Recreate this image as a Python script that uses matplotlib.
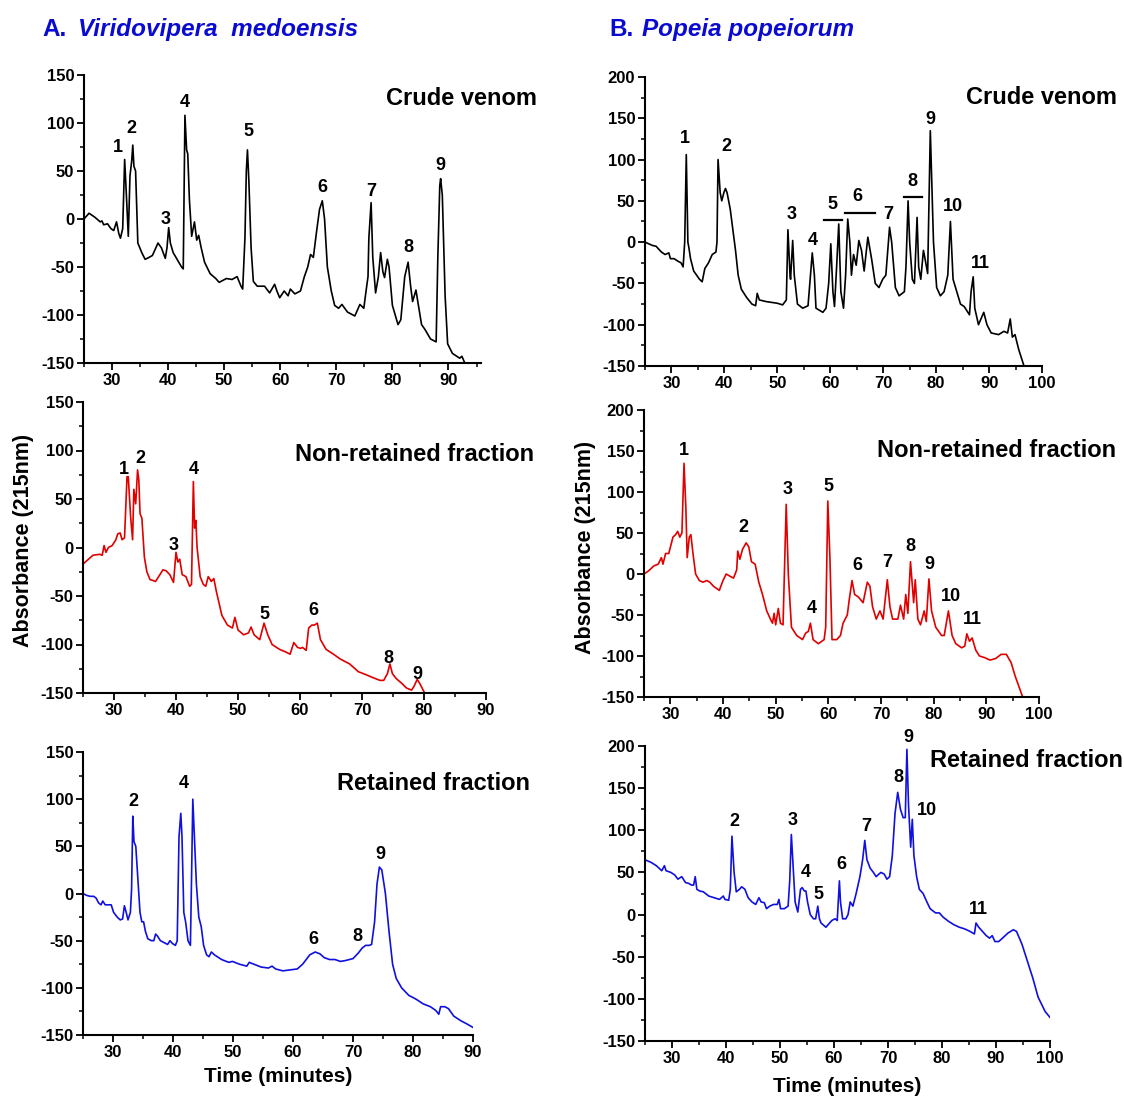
import matplotlib
matplotlib.use("Agg")
import matplotlib.pyplot as plt
from matplotlib.ticker import MultipleLocator

plt.rcParams['font.family'] = ['Liberation Sans', 'DejaVu Sans']
plt.rcParams['font.weight'] = 'bold'
plt.rcParams['axes.unicode_minus'] = False

# ---------------- data ----------------
# A. Viridovipera medoensis - crude venom
a1_t = [25, 25.9, 26.9, 27.9, 28.2, 28.5, 29.2, 29.8, 30.3, 30.8, 31.2, 31.5, 31.9, 32.25, 32.6, 32.9,
        33.2, 33.5, 33.7, 33.9, 34.2, 34.6, 35.3, 35.9, 36.6, 37.2, 38.2, 38.8, 39.5, 39.8, 40.1, 40.4,
        40.9, 41.7, 42.4, 42.7, 43.0, 43.3, 43.5, 43.8, 44.2, 44.7, 45.1, 45.45, 45.9, 46.5, 47.5, 48.5,
        49.1, 50.4, 51.4, 52.3, 53.0, 53.3, 53.7, 53.95, 54.15, 54.4, 54.8, 55.2, 55.9, 57.2, 58.1, 59.0,
        59.4, 59.9, 60.7, 61.4, 61.8, 62.6, 63.6, 64.3, 64.9, 65.4, 65.9, 66.5, 67.0, 67.5, 67.9, 68.4,
        69.1, 69.7, 70.4, 71.0, 72.0, 73.3, 74.2, 74.9, 75.3, 75.65, 75.8, 76.2, 76.5, 77.0, 77.5, 77.9,
        78.3, 78.6, 79.1, 79.4, 80.0, 81.0, 81.5, 82.2, 82.8, 83.25, 83.6, 84.2, 84.5, 85.2, 85.8, 86.8,
        87.8, 88.1, 88.45, 88.6, 88.9, 89.4, 89.85, 90.7, 92.0, 92.4, 92.9]
a1_v = [0, 6, 2, -3, -2, -6, -5, -10, -12, -3, -15, -20, -10, 62, 20, -18,
        45, 60, 77, 55, 50, -25, -35, -42, -40, -38, -25, -30, -41, -30, -9, -25,
        -35, -43, -50, -52, 108, 72, 68, 20, -18, -3, -22, -17, -30, -45, -57, -62,
        -66, -62, -63, -60, -70, -73, -20, 50, 72, 40, -30, -65, -70, -70, -77, -68,
        -75, -82, -75, -80, -73, -78, -75, -60, -50, -37, -40, -12, 10, 19, 0, -50,
        -75, -90, -93, -89, -97, -101, -89, -93, -75, -60, -20, 17, -40, -77, -60, -35,
        -55, -61, -42, -50, -90, -110, -105, -60, -45, -70, -86, -74, -85, -110, -115, -125,
        -128, -40, 35, 42, 25, -80, -130, -140, -145, -143, -150]
a1_lab = ['1', '2', '3', '4', '5', '6', '7', '8', '9']
a1_lx = [31.0, 33.5, 39.5, 43.0, 54.3, 67.5, 76.2, 82.8, 88.6]
a1_ly = [75, 94, 0, 121, 91, 33, 29, -30, 56]

# A - non-retained fraction
a2_t = [25, 25.9, 26.6, 27.7, 28.1, 28.4, 28.7, 29.1, 29.7, 30.3, 30.6, 31.0, 31.3, 31.7, 32.1, 32.3,
        32.7, 33.0, 33.2, 33.5, 33.8, 34.0, 34.2, 34.5, 34.9, 35.3, 35.8, 36.7, 37.2, 37.9, 38.4, 39.0,
        39.6, 40.0, 40.3, 40.6, 41.0, 41.6, 42.2, 42.5, 42.8, 43.0, 43.2, 43.4, 43.9, 44.4, 44.8, 45.2,
        45.7, 46.1, 46.5, 47.4, 48.3, 49.1, 49.5, 50.0, 50.9, 51.7, 52.1, 52.6, 53.5, 54.2, 54.8, 55.5,
        56.7, 57.8, 58.4, 59.0, 59.6, 60.1, 60.4, 61.0, 61.4, 61.9, 62.3, 62.8, 63.3, 64.2, 65.4, 66.5,
        67.4, 68.0, 69.4, 70.6, 71.7, 72.9, 73.5, 74.1, 74.5, 74.9, 75.5, 76.4, 77.2, 78.0, 78.4, 78.9,
        79.3, 80.1]
a2_v = [-17, -12, -8, -7, -8, 2, -5, 0, 2, 8, 14, 15, 8, 10, 73, 73,
        30, 8, 60, 45, 80, 70, 35, 30, -10, -25, -33, -35, -30, -23, -24, -28,
        -36, -5, -15, -12, -28, -30, -40, -38, 68, 20, 28, 0, -30, -38, -40, -30,
        -35, -32, -45, -70, -80, -83, -72, -85, -90, -88, -82, -90, -95, -78, -90, -100,
        -105, -108, -110, -98, -103, -104, -103, -106, -83, -80, -80, -78, -95, -105, -110, -115,
        -118, -120, -128, -131, -134, -137, -137, -130, -120, -130, -135, -140, -145, -147, -143, -136,
        -140, -150]
a2_lab = ['1', '2', '3', '4', '5', '6', '8', '9']
a2_lx = [31.6, 34.2, 39.6, 42.8, 54.3, 62.2, 74.2, 78.9]
a2_ly = [80, 92, 2, 80, -69, -65, -114, -131]

# A - retained fraction
a3_t = [25, 25.6, 26.2, 26.8, 27.2, 27.6, 28.0, 28.3, 28.7, 29.2, 29.7, 30.1, 30.7, 31.2, 31.6, 31.9,
        32.2, 32.5, 32.9, 33.1, 33.3, 33.5, 33.8, 34.1, 34.5, 34.8, 35.1, 35.4, 35.8, 36.4, 36.8, 37.1,
        37.4, 37.9, 38.5, 39.1, 39.5, 39.9, 40.4, 40.7, 41.0, 41.3, 41.5, 41.8, 42.1, 42.5, 42.9, 43.1,
        43.3, 43.6, 43.9, 44.3, 44.7, 45.1, 45.6, 46.0, 46.4, 46.9, 48.1, 49.3, 49.9, 51.1, 52.3, 52.7,
        53.5, 54.7, 55.9, 56.5, 57.1, 58.3, 59.5, 60.7, 61.6, 62.2, 62.8, 63.7, 64.5, 65.2, 66.1, 67.0,
        67.9, 68.8, 70.0, 70.9, 71.5, 72.1, 72.7, 73.1, 73.6, 74.0, 74.4, 74.8, 75.4, 76.0, 76.6, 77.2,
        78.1, 79.3, 80.5, 81.7, 82.9, 83.8, 84.3, 84.6, 85.3, 85.9, 86.8, 88.0, 88.9, 90.0]
a3_v = [0, -2, -3, -3, -5, -10, -12, -8, -12, -12, -12, -20, -25, -28, -27, -13,
        -20, -28, -20, 5, 82, 55, 50, 20, -20, -30, -30, -40, -48, -50, -50, -43,
        -45, -50, -52, -54, -50, -53, -55, -50, 60, 85, 60, -20, -30, -50, -55, 20,
        100, 55, 10, -25, -35, -55, -65, -67, -62, -65, -70, -73, -72, -75, -77, -73,
        -75, -78, -79, -77, -80, -82, -81, -80, -75, -70, -65, -62, -64, -68, -70, -70,
        -72, -71, -69, -63, -58, -55, -55, -54, -30, 10, 28, 25, 0, -40, -75, -90,
        -100, -108, -112, -117, -120, -124, -128, -120, -120, -122, -130, -135, -138, -142]
a3_lab = ['2', '4', '6', '8', '9']
a3_lx = [33.4, 41.8, 63.4, 70.8, 74.5]
a3_ly = [98, 117, -49, -46, 41]

# B. Popeia popeiorum - crude venom
b1_t = [25.0, 26.4, 27.1, 28.1, 28.8, 29.5, 29.8, 30.5, 31.2, 31.8, 32.2, 32.5, 32.8, 33.1, 33.3, 33.6,
        34.2, 35.3, 35.8, 36.3, 37.0, 37.7, 38.4, 38.6, 38.8, 39.2, 39.5, 39.9, 40.2, 40.5, 41.1, 41.6,
        42.1, 42.6, 43.2, 44.2, 45.2, 45.9, 46.2, 46.6, 47.9, 50.0, 51.0, 51.7, 52.0, 52.4, 52.5, 52.9,
        53.2, 53.8, 54.8, 55.8, 56.2, 56.6, 57.0, 57.3, 58.6, 59.2, 59.7, 60.1, 60.5, 60.8, 61.2, 61.6,
        62.0, 62.5, 62.9, 63.3, 63.7, 64.0, 64.4, 64.9, 65.4, 65.9, 66.4, 67.1, 67.8, 68.5, 69.2, 69.9,
        70.5, 71.2, 71.6, 72.3, 73.0, 74.0, 74.3, 74.7, 75.0, 75.5, 75.9, 76.4, 76.7, 77.1, 77.6, 77.9,
        78.4, 78.9, 79.5, 80.1, 80.8, 81.5, 82.2, 82.7, 83.2, 83.9, 84.6, 85.3, 86.0, 86.3, 86.6, 87.0,
        87.3, 88.0, 89.0, 89.6, 90.4, 91.8, 92.8, 93.5, 94.0, 94.4, 94.9, 95.6, 96.6]
b1_v = [0, -4, -5, -12, -15, -13, -20, -20, -23, -25, -30, 0, 106, 0, -7, -20,
        -35, -45, -48, -32, -25, -15, -12, 0, 100, 60, 50, 60, 65, 60, 40, 15,
        -10, -40, -57, -67, -75, -77, -62, -70, -72, -74, -76, -70, 15, -40, -45, 2,
        -40, -75, -80, -77, -45, -13, -40, -80, -85, -80, -50, -2, -60, -78, -30, 22,
        -60, -80, -40, 28, 0, -40, -15, -28, 2, -10, -35, 6, -20, -50, -55, -45,
        -40, 18, 0, -55, -65, -60, -30, 50, 0, -45, -50, 30, -30, -45, -10, -20,
        -38, 135, 0, -55, -65, -60, -40, 25, -45, -60, -75, -78, -85, -88, -60, -42,
        -80, -100, -85, -100, -110, -112, -108, -110, -93, -115, -112, -130, -150]
b1_lab = ['1', '2', '3', '4', '5', '6', '7', '8', '9', '10', '11']
b1_lx = [32.5, 40.3, 52.7, 56.6, 60.5, 65.2, 71.0, 75.5, 78.9, 83.1, 88.4]
b1_ly = [125, 116, 33, 2, 46, 55, 34, 73, 149, 43, -26]
b1_bar_x0 = [58.9, 62.7, 74.0]
b1_bar_x1 = [62.3, 68.5, 77.4]
b1_bar_y = [27, 35, 55]

# B - non-retained fraction
b2_t = [25, 25.9, 26.9, 27.7, 28.3, 28.6, 29.1, 29.7, 30.1, 30.5, 31.0, 31.4, 31.8, 32.2, 32.6, 32.95,
        33.2, 33.6, 33.9, 34.3, 34.8, 35.5, 36.2, 36.9, 37.5, 38.2, 39.3, 40.0, 40.6, 41.4, 42.0, 42.6,
        42.8, 43.2, 43.7, 44.4, 44.9, 45.4, 46.1, 46.8, 47.5, 48.3, 49.0, 49.4, 49.7, 50.0, 50.5, 50.9,
        51.4, 52.0, 52.4, 53.0, 54.0, 55.1, 55.7, 56.2, 56.6, 57.1, 58.1, 59.2, 59.5, 59.9, 60.3, 60.7,
        61.6, 62.3, 62.8, 63.6, 64.0, 64.5, 65.0, 65.7, 66.6, 67.4, 67.9, 68.4, 69.1, 69.8, 70.4, 71.2,
        71.7, 72.2, 73.2, 73.7, 74.3, 74.7, 75.1, 75.6, 76.2, 76.5, 77.0, 77.5, 78.2, 78.6, 79.1, 79.6,
        80.4, 81.5, 82.0, 82.8, 83.5, 84.2, 85.3, 85.9, 86.3, 86.8, 87.3, 88.0, 88.7, 89.7, 90.7, 91.8,
        92.8, 93.8, 94.7, 95.5, 96.9]
b2_v = [0, 4, 10, 12, 20, 12, 25, 25, 35, 45, 48, 52, 45, 50, 135, 80,
        20, 45, 48, 25, 0, -8, -10, -8, -10, -15, -20, -8, 0, -3, -5, 5,
        28, 18, 30, 38, 33, 15, 12, -10, -25, -45, -55, -60, -48, -62, -42, -60,
        -62, 85, 0, -65, -75, -80, -72, -70, -60, -80, -85, -80, -65, 89, 20, -80,
        -80, -75, -60, -50, -30, -8, -25, -28, -35, -10, -15, -40, -55, -45, -55, -7,
        -40, -55, -55, -38, -55, -25, -48, 15, -35, -7, -55, -62, -45, -58, -6, -45,
        -65, -75, -75, -45, -75, -85, -90, -88, -73, -82, -78, -93, -100, -102, -105, -103,
        -98, -98, -108, -125, -150]
b2_lab = ['1', '2', '3', '4', '5', '6', '7', '8', '9', '10', '11']
b2_lx = [32.6, 43.9, 52.3, 56.9, 60.1, 65.5, 71.2, 75.5, 79.2, 83.2, 87.3]
b2_ly = [151, 57, 103, -42, 107, 10, 14, 33, 12, -27, -56]

# B - retained fraction
b3_t = [25, 26.1, 27.1, 28.1, 28.6, 28.9, 29.8, 30.5, 31.1, 31.8, 32.5, 33.1, 33.6, 34.0, 34.3, 34.6,
        35.1, 35.8, 36.8, 37.8, 38.8, 39.5, 39.8, 40.5, 40.8, 41.1, 41.5, 41.9, 42.5, 42.9, 43.5, 44.1,
        44.8, 45.5, 46.1, 46.5, 47.1, 47.5, 48.1, 48.8, 49.5, 49.8, 50.1, 50.8, 51.5, 51.8, 52.1, 52.5,
        52.8, 53.3, 53.8, 54.1, 54.5, 54.8, 55.1, 55.6, 56.2, 56.6, 57.0, 57.3, 57.6, 58.5, 59.2, 59.6,
        60.2, 60.6, 61.0, 61.2, 61.6, 62.2, 62.6, 63.0, 63.5, 64.1, 64.8, 65.3, 65.7, 66.1, 66.7, 67.3,
        67.8, 68.3, 68.7, 69.3, 69.8, 70.3, 70.8, 71.3, 71.8, 72.3, 72.8, 73.2, 73.5, 73.8, 74.2, 74.5,
        74.8, 75.3, 75.8, 76.5, 77.2, 77.8, 78.8, 79.5, 80.2, 81.2, 82.2, 83.2, 84.2, 85.2, 86.0, 86.3,
        86.8, 87.5, 88.2, 88.8, 89.3, 89.8, 90.5, 91.2, 92.2, 93.2, 93.8, 94.8, 95.8, 96.8, 97.8, 99.1,
        100]
b3_v = [65, 62, 58, 52, 58, 52, 50, 47, 42, 45, 38, 37, 35, 35, 45, 30,
        28, 27, 22, 20, 18, 22, 18, 17, 30, 93, 50, 27, 30, 33, 30, 20,
        15, 12, 20, 15, 14, 7, 10, 12, 12, 18, 7, 7, 10, 40, 95, 50,
        15, 3, 30, 32, 28, 28, 15, 0, -5, -5, 10, -5, -10, -15, -10, -7,
        -5, -7, 40, 15, -5, -5, 0, 15, 10, 25, 45, 65, 88, 65, 55, 50,
        45, 48, 50, 48, 42, 45, 70, 120, 145, 125, 115, 115, 196, 130, 80, 113,
        70, 45, 30, 25, 15, 7, 2, 2, -3, -8, -12, -15, -17, -20, -23, -10,
        -15, -20, -25, -28, -25, -32, -32, -28, -22, -18, -20, -35, -55, -75, -98, -115,
        -122]
b3_lab = ['2', '3', '4', '5', '6', '7', '8', '9', '10', '11']
b3_lx = [41.5, 52.3, 54.8, 57.2, 61.4, 66.0, 72.0, 73.8, 77.3, 86.8]
b3_ly = [110, 112, 50, 24, 59, 104, 163, 210, 123, 6]

# ---------------- figure ----------------
W, H = 1124, 1098
fig = plt.figure(figsize=(W / 100, H / 100), dpi=100)


def make_ax(left, right, top, bottom):
    return fig.add_axes([left / W, 1 - bottom / H, (right - left) / W, (bottom - top) / H])


BLACK = '#000000'
RED = '#e00000'
BLUE = '#1010e0'

panels = [
    ((84, 481, 75, 363), a1_t, a1_v, BLACK, (25, 95.8), (-150, 150), 50,
     (a1_lab, a1_lx, a1_ly), 'Crude venom', (1.14, 0.92)),
    ((83, 486, 402, 693), a2_t, a2_v, RED, (25, 90), (-150, 150), 50,
     (a2_lab, a2_lx, a2_ly), 'Non-retained fraction', (1.12, 0.82)),
    ((83, 473, 752, 1035), a3_t, a3_v, BLUE, (25, 90), (-150, 150), 50,
     (a3_lab, a3_lx, a3_ly), 'Retained fraction', (1.147, 0.89)),
    ((645, 1042, 77, 366), b1_t, b1_v, BLACK, (25, 100), (-150, 200), 50,
     (b1_lab, b1_lx, b1_ly), 'Crude venom', (1.19, 0.93)),
    ((644, 1039, 410, 697), b2_t, b2_v, RED, (25, 100), (-150, 200), 50,
     (b2_lab, b2_lx, b2_ly), 'Non-retained fraction', (1.195, 0.86)),
    ((645, 1050, 746, 1041), b3_t, b3_v, BLUE, (25, 100), (-150, 200), 50,
     (b3_lab, b3_lx, b3_ly), 'Retained fraction', (1.18, 0.95)),
]

axes = []
for box, t, v, col, xl, yl, ystep, labs, name, npos in panels:
    ax = make_ax(*box)
    axes.append(ax)
    ax.plot(t, v, color=col, lw=1.2)
    ax.set_xlim(*xl)
    ax.set_ylim(*yl)
    ax.spines['top'].set_visible(False)
    ax.spines['right'].set_visible(False)
    for s in ('left', 'bottom'):
        ax.spines[s].set_linewidth(1.5)
    ax.xaxis.set_major_locator(MultipleLocator(10))
    ax.xaxis.set_minor_locator(MultipleLocator(5))
    ax.yaxis.set_major_locator(MultipleLocator(ystep))
    ax.yaxis.set_minor_locator(MultipleLocator(ystep / 2))
    ax.set_xticks([x for x in range(30, int(xl[1]) + 1, 10)])
    ax.tick_params(which='major', direction='out', length=5, width=1.3, labelsize=12, pad=2)
    ax.tick_params(which='minor', direction='out', length=2.8, width=1.1)
    for lab in ax.get_xticklabels() + ax.get_yticklabels():
        lab.set_fontweight('bold')
    for s, x, y in zip(*labs):
        ax.text(x, y, s, ha='center', va='center', fontsize=13, fontweight='bold')
    ax.text(npos[0], npos[1], name, transform=ax.transAxes, ha='right', va='center',
            fontsize=17, fontweight='bold')

# bars in B crude venom
for x0, x1, y in zip(b1_bar_x0, b1_bar_x1, b1_bar_y):
    axes[3].plot([x0, x1], [y, y], color='black', lw=1.6)

# axis labels
fig.text(24 / W, 1 - 540 / H, 'Absorbance (215nm)', rotation=90, ha='center', va='center',
         fontsize=15.5, fontweight='bold')
fig.text(585 / W, 1 - 547 / H, 'Absorbance (215nm)', rotation=90, ha='center', va='center',
         fontsize=15.5, fontweight='bold')
fig.text(278 / W, 1 - 1077 / H, 'Time (minutes)', ha='center', va='center',
         fontsize=15, fontweight='bold')
fig.text(847 / W, 1 - 1086 / H, 'Time (minutes)', ha='center', va='center',
         fontsize=15, fontweight='bold')

# titles
TC = '#0a0ad0'
TY = 1 - 36 / H
fig.text(42 / W, TY, 'A.', ha='left', va='baseline', fontsize=17.5, fontweight='bold', color=TC)
fig.text(78 / W, TY, 'Viridovipera  medoensis', ha='left', va='baseline', fontsize=17.5,
         fontweight='bold', style='italic', color=TC)
fig.text(609 / W, TY, 'B.', ha='left', va='baseline', fontsize=17.5, fontweight='bold', color=TC)
fig.text(642 / W, TY, 'Popeia popeiorum', ha='left', va='baseline', fontsize=17.5,
         fontweight='bold', style='italic', color=TC)

fig.savefig('out.png', dpi=100)
